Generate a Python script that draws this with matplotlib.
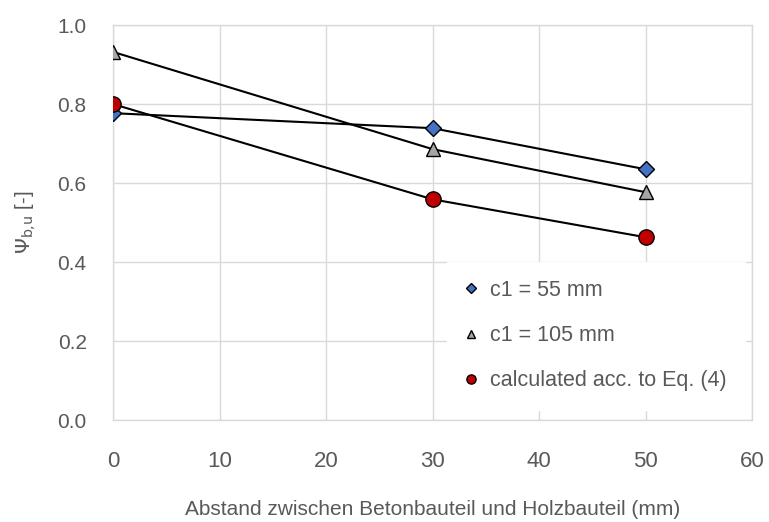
"""Psi_b,u over distance between concrete and timber part."""
import matplotlib
matplotlib.use("Agg")
import matplotlib.pyplot as plt

plt.rcParams['font.family'] = ['Liberation Sans', 'DejaVu Sans']

abstand = [0, 30, 50]
psi_c55 = [0.777, 0.739, 0.635]
psi_c105 = [0.932, 0.686, 0.577]
psi_calc = [0.800, 0.559, 0.463]

labels = ["c1 = 55 mm", "c1 = 105 mm", "calculated acc. to Eq. (4)"]

_grey = "#595959"
_grid = "#d9d9d9"

fig = plt.figure(figsize=(7.69, 5.22), dpi=100)
ax = fig.add_axes([0.147, 0.195, 0.831, 0.757])

ax.plot(abstand, psi_c55, color="black", lw=1.5, marker="D", ms=8,
        mfc="#4472C4", mec="black", mew=1.0, label=labels[0], zorder=3)
ax.plot(abstand, psi_c105, color="black", lw=1.5, marker="^", ms=10,
        mfc="#A5A5A5", mec="black", mew=1.0, label=labels[1], zorder=3)
ax.plot(abstand, psi_calc, color="black", lw=1.5, marker="o", ms=11,
        mfc="#C00000", mec="black", mew=1.0, label=labels[2], zorder=4)

ax.set_xlim(0, 60)
ax.set_ylim(0, 1.0)
ax.set_xticks(range(0, 61, 10))
ax.set_yticks([0, 0.2, 0.4, 0.6, 0.8, 1.0])
ax.set_yticklabels(["0.0", "0.2", "0.4", "0.6", "0.8", "1.0"])
ax.tick_params(length=0, colors=_grey)
ax.tick_params(axis="y", labelsize=15, pad=19)
ax.tick_params(axis="x", labelsize=16, pad=22)
ax.grid(True, color=_grid, lw=1.0)
ax.set_axisbelow(True)
for s in ax.spines.values():
    s.set_color(_grid)
    s.set_linewidth(1.0)

ax.set_xlabel("Abstand zwischen Betonbauteil und Holzbauteil (mm)",
              fontsize=15, color=_grey, labelpad=20)
ax.set_ylabel(r"$\Psi_{\mathrm{b,\!u}}$ [-]", fontsize=14.5, color=_grey,
              labelpad=14)

# legend: marker only, white box without frame
handles, lbls = ax.get_legend_handles_labels()
leg = ax.legend(handles, lbls, loc="lower right",
                bbox_to_anchor=(0.989, 0.027), frameon=True, fancybox=False,
                handlelength=0.5, handletextpad=0.65, labelspacing=1.12,
                markerscale=0.6, fontsize=15.5, borderpad=0.85,
                borderaxespad=0)
leg.get_frame().set_facecolor("white")
leg.get_frame().set_edgecolor("white")
leg.get_frame().set_alpha(1)
for t in leg.get_texts():
    t.set_color(_grey)
for h in leg.get_lines():
    h.set_linestyle("none")

fig.savefig("out.png", dpi=100)
